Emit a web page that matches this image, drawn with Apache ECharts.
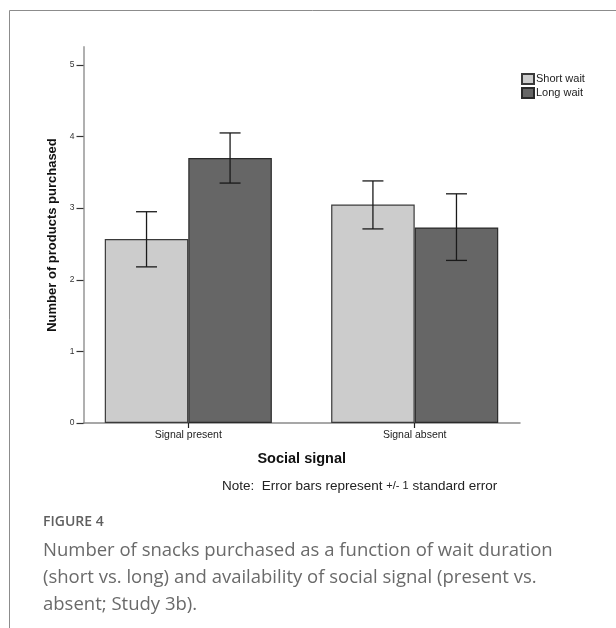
<!DOCTYPE html>
<html>
<head>
<meta charset="utf-8">
<script src="https://cdn.jsdelivr.net/npm/echarts@6/dist/echarts.min.js"></script>
<style>
html,body{margin:0;padding:0;background:#fff;}
#chart{width:616px;height:628px;}
</style>
</head>
<body>
<div id="chart"></div>
<script>
// ---- data ----
const categories = ['Signal present', 'Signal absent'];
const seriesNames = ['Short wait', 'Long wait'];
const shortWait = [2.57, 3.05];
const longWait = [3.70, 2.73];
const shortWaitErrLow = [2.18, 2.71];
const shortWaitErrHigh = [2.95, 3.38];
const longWaitErrLow = [3.35, 2.27];
const longWaitErrHigh = [4.05, 3.20];
const yTicks = [0, 1, 2, 3, 4, 5];

const chart = echarts.init(document.getElementById('chart'), null, {renderer: 'canvas'});

const GRID_TOP = 47, GRID_H = 376;
const BAR_FRAC = 0.369;

function errorSeries(name, low, high, side) {
  return {
    type: 'custom',
    name: name + ' error',
    xAxisIndex: 0, yAxisIndex: 0,
    z: 10,
    silent: true,
    data: low.map((l, i) => [i, l, high[i]]),
    renderItem: function (params, api) {
      const i = api.value(0);
      const band = api.size([1, 0])[0];
      const off = side * band * BAR_FRAC / 2;
      const pLow = api.coord([i, api.value(1)]);
      const pHigh = api.coord([i, api.value(2)]);
      const x = pLow[0] + off;
      const cap = 10.5;
      const style = {stroke: '#1a1a1a', lineWidth: 1.3};
      return {
        type: 'group',
        children: [
          {type: 'line', shape: {x1: x, y1: pLow[1], x2: x, y2: pHigh[1]}, style: style},
          {type: 'line', shape: {x1: x - cap, y1: pLow[1], x2: x + cap, y2: pLow[1]}, style: style},
          {type: 'line', shape: {x1: x - cap, y1: pHigh[1], x2: x + cap, y2: pHigh[1]}, style: style}
        ]
      };
    }
  };
}

const option = {
  backgroundColor: '#fff',
  animation: false,
  grid: [
    {left: 75.1, width: 452.8, top: GRID_TOP, height: GRID_H, containLabel: false},
    {left: 83.5, width: 436.5, top: GRID_TOP, height: GRID_H, containLabel: false}
  ],
  legend: {
    orient: 'vertical',
    left: 521, top: 73, padding: 0,
    itemWidth: 12, itemHeight: 10, itemGap: 2,
    icon: 'rect',
    textStyle: {fontFamily: 'Liberation Sans, Arial, sans-serif', fontSize: 11, color: '#222', padding: [0,0,0,-3]},
    data: seriesNames
  },
  xAxis: [
    {
      gridIndex: 0, type: 'category', data: categories,
      axisLine: {show: false},
      axisTick: {show: true, alignWithLabel: true, length: 5, lineStyle: {color: '#222', width: 1.2}},
      axisLabel: {fontFamily: 'Liberation Sans, Arial, sans-serif', fontSize: 10.5, color: '#222', margin: 7}
    },
    {
      gridIndex: 1, type: 'value', min: 0, max: 1,
      axisLine: {show: true, lineStyle: {color: '#8a8a8a', width: 1.5}},
      axisTick: {show: false}, axisLabel: {show: false}, splitLine: {show: false},
      name: 'Social signal', nameLocation: 'middle', nameGap: 28,
      nameTextStyle: {fontFamily: 'Liberation Sans, Arial, sans-serif', fontSize: 14.5, fontWeight: 'bold', color: '#111'}
    }
  ],
  yAxis: [
    {gridIndex: 0, type: 'value', min: 0, max: 5.25, show: false},
    {
      gridIndex: 1, type: 'value', min: 0, max: 5.25,
      axisLine: {show: true, lineStyle: {color: '#a8a8a8', width: 1.8}},
      axisTick: {show: true, length: 7, customValues: yTicks, lineStyle: {color: '#333', width: 1.2}},
      axisLabel: {customValues: yTicks, fontFamily: 'Liberation Sans, Arial, sans-serif', fontSize: 8.5, color: '#333', margin: 9},
      splitLine: {show: false},
      name: 'Number of products purchased', nameLocation: 'middle', nameGap: 25, nameRotate: 90,
      nameTextStyle: {fontFamily: 'Liberation Sans, Arial, sans-serif', fontSize: 13, fontWeight: 'bold', color: '#111'}
    }
  ],
  graphic: [
    {type: 'line', shape: {x1: 9.5, y1: 10.5, x2: 616, y2: 10.5}, style: {stroke: '#8c8c8c', lineWidth: 1}},
    {type: 'line', shape: {x1: 9.5, y1: 10.5, x2: 9.5, y2: 628}, style: {stroke: '#8c8c8c', lineWidth: 1}},
    {
      type: 'text', left: 222, top: 479,
      style: {
        text: '{a|Note:  Error bars represent }{b|+/- 1}{a| standard error}',
        rich: {
          a: {fontFamily: 'Liberation Sans Narrow, Arial Narrow, sans-serif', fontSize: 13.5, fill: '#222'},
          b: {fontFamily: 'Liberation Sans Narrow, Arial Narrow, sans-serif', fontSize: 11, fill: '#222'}
        }
      }
    },
    {
      type: 'text', left: 43, top: 515,
      style: {text: 'FIGURE 4', fontFamily: 'Open Sans, sans-serif', fontSize: 14, fontWeight: 600, fill: '#5f5f5f'}
    },
    {
      type: 'text', left: 43, top: 537,
      style: {
        text: 'Number of snacks purchased as a function of wait duration\n(short vs. long) and availability of social signal (present vs.\nabsent; Study 3b).',
        fontFamily: 'Open Sans, sans-serif', fontSize: 18.5, lineHeight: 27, fill: '#6a6a6a'
      }
    }
  ],
  series: [
    {
      name: seriesNames[0], type: 'bar', xAxisIndex: 0, yAxisIndex: 0,
      data: shortWait, barWidth: (BAR_FRAC * 100) + '%', barGap: '0%',
      itemStyle: {color: '#cccccc', borderColor: '#3a3a3a', borderWidth: 1.2}
    },
    {
      name: seriesNames[1], type: 'bar', xAxisIndex: 0, yAxisIndex: 0,
      data: longWait, barWidth: (BAR_FRAC * 100) + '%', barGap: '0%',
      itemStyle: {color: '#666666', borderColor: '#2a2a2a', borderWidth: 1.2}
    },
    errorSeries(seriesNames[0], shortWaitErrLow, shortWaitErrHigh, -1),
    errorSeries(seriesNames[1], longWaitErrLow, longWaitErrHigh, 1)
  ]
};

chart.setOption(option);
</script>
</body>
</html>
